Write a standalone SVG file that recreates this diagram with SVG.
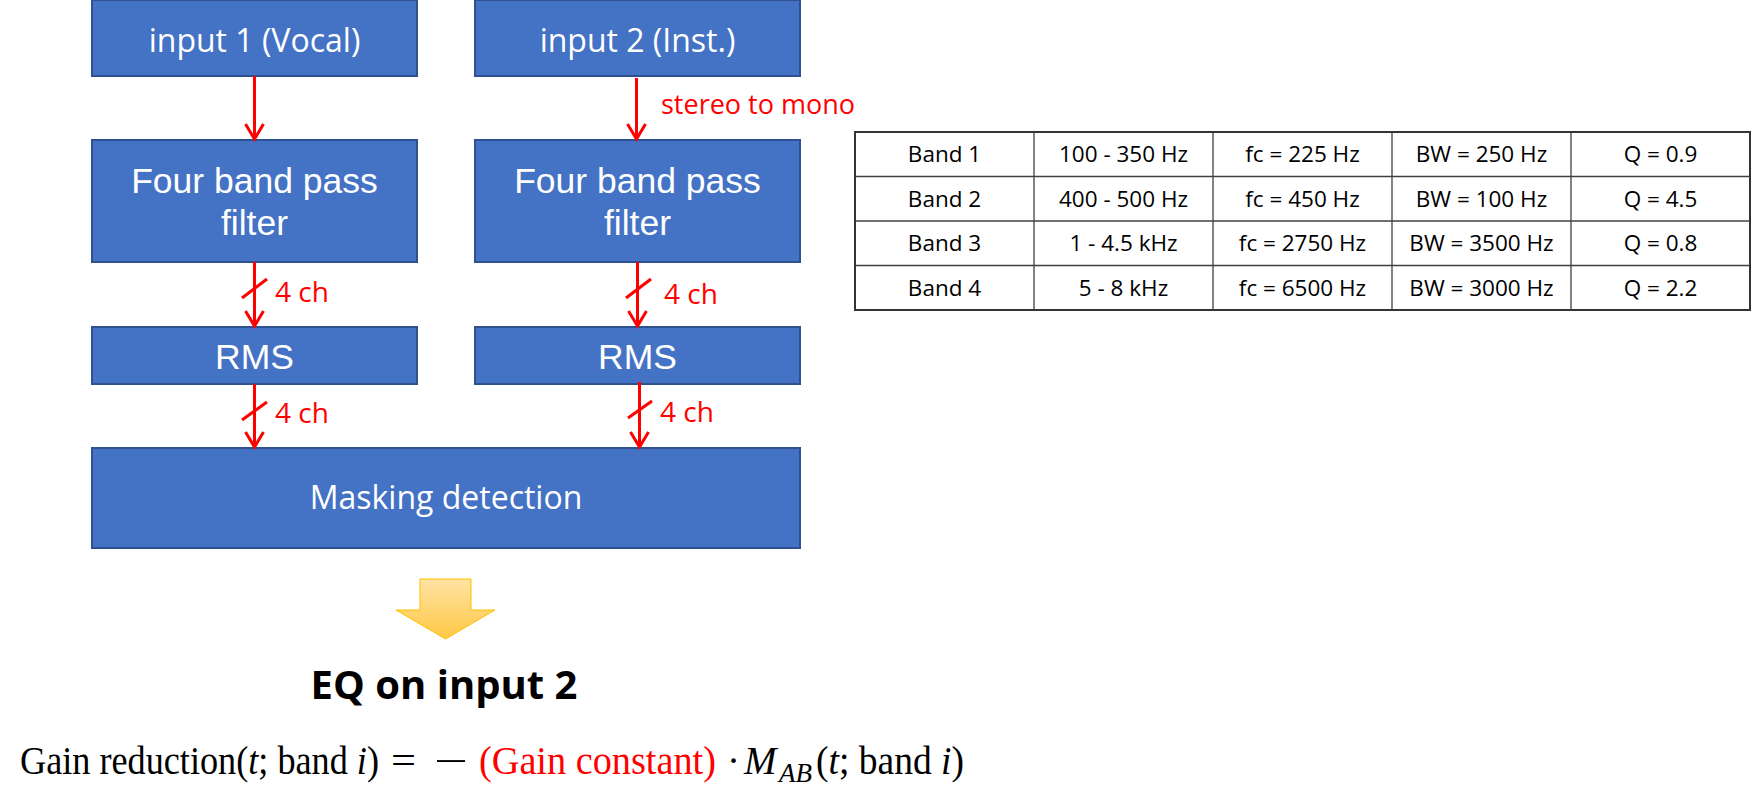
<svg xmlns="http://www.w3.org/2000/svg" width="1753" height="800" viewBox="0 0 1753 800">
<style>
.box{fill:#4472C4;stroke:#2F528F;stroke-width:2}
.cal{font-family:"Open Sans","Liberation Sans",sans-serif;fill:#fff;text-anchor:middle}
.hel{font-family:"Liberation Sans",Arial,sans-serif;fill:#fff;text-anchor:middle;font-size:35.5px}
.red{font-family:"Open Sans","Liberation Sans",sans-serif;fill:#FF0000;font-size:27px}
.ch{font-size:28px}
.conn{stroke:#FF0000;stroke-width:3;fill:none}
.tl{stroke:#404040;stroke-width:1.3}
.tt{font-family:"Open Sans","Liberation Sans",sans-serif;font-size:22.5px;fill:#000;text-anchor:middle}
.math{font-family:"Liberation Serif","Times New Roman",serif;font-size:39px;fill:#000}
.it{font-style:italic}
</style>
<defs>
<marker id="ah" markerUnits="userSpaceOnUse" markerWidth="30" markerHeight="30" refX="0" refY="0" orient="auto" overflow="visible">
<path d="M-15,-9 L0,0 L-15,9" fill="none" stroke="#FF0000" stroke-width="3" stroke-linejoin="miter"/>
</marker>
<linearGradient id="yg" x1="0" y1="0" x2="0" y2="1">
<stop offset="0" stop-color="#FFE3A3"/>
<stop offset="1" stop-color="#FFC845"/>
</linearGradient>
</defs>
<rect width="1753" height="800" fill="#fff"/>

<g id="input1"><rect class="box" x="92" y="0" width="325" height="76"/><text class="cal" x="254.5" y="52" font-size="32">input 1 (Vocal)</text></g>
<g id="input2"><rect class="box" x="475" y="0" width="325" height="76"/><text class="cal" x="637.5" y="52" font-size="32">input 2 (Inst.)</text></g>
<g id="filter1"><rect class="box" x="92" y="140" width="325" height="122"/><text class="hel" x="254.5" y="193">Four band pass</text><text class="hel" x="254.5" y="235">filter</text></g>
<g id="filter2"><rect class="box" x="475" y="140" width="325" height="122"/><text class="hel" x="637.5" y="193">Four band pass</text><text class="hel" x="637.5" y="235">filter</text></g>
<g id="rms1"><rect class="box" x="92" y="327" width="325" height="57"/><text class="hel" x="254.5" y="369">RMS</text></g>
<g id="rms2"><rect class="box" x="475" y="327" width="325" height="57"/><text class="hel" x="637.5" y="369">RMS</text></g>
<g id="masking"><rect class="box" x="92" y="448" width="708" height="100"/><text class="cal" x="446" y="509" font-size="32">Masking detection</text></g>

<g id="connectors">
<line class="conn" x1="254.5" y1="76" x2="254.5" y2="139" marker-end="url(#ah)"/>
<line class="conn" x1="636.5" y1="78" x2="636.5" y2="139" marker-end="url(#ah)"/>
<line class="conn" x1="254.5" y1="262" x2="254.5" y2="326" marker-end="url(#ah)"/>
<line class="conn" x1="242" y1="298" x2="267" y2="279"/>
<line class="conn" x1="637.5" y1="262" x2="637.5" y2="326" marker-end="url(#ah)"/>
<line class="conn" x1="626" y1="298" x2="651" y2="279"/>
<line class="conn" x1="254.5" y1="384" x2="254.5" y2="447" marker-end="url(#ah)"/>
<line class="conn" x1="242" y1="420" x2="267" y2="402"/>
<line class="conn" x1="639.5" y1="382" x2="639.5" y2="447" marker-end="url(#ah)"/>
<line class="conn" x1="628" y1="418" x2="652" y2="401"/>
<text class="red" x="661" y="114">stereo to mono</text>
<text class="red ch" x="275" y="302">4 ch</text>
<text class="red ch" x="664" y="304">4 ch</text>
<text class="red ch" x="275" y="423">4 ch</text>
<text class="red ch" x="660" y="422">4 ch</text>
</g>

<g id="table">
<rect x="855" y="132" width="895" height="178" fill="#fff" stroke="#333" stroke-width="2"/>
<line class="tl" x1="855" y1="176.5" x2="1750" y2="176.5"/>
<line class="tl" x1="855" y1="221" x2="1750" y2="221"/>
<line class="tl" x1="855" y1="265.5" x2="1750" y2="265.5"/>
<line class="tl" x1="1034" y1="132" x2="1034" y2="310"/>
<line class="tl" x1="1213" y1="132" x2="1213" y2="310"/>
<line class="tl" x1="1392" y1="132" x2="1392" y2="310"/>
<line class="tl" x1="1571" y1="132" x2="1571" y2="310"/>
<text class="tt" x="944.5" y="162">Band 1</text><text class="tt" x="1123.5" y="162">100 - 350 Hz</text><text class="tt" x="1302.5" y="162">fc = 225 Hz</text><text class="tt" x="1481.5" y="162">BW = 250 Hz</text><text class="tt" x="1660.5" y="162">Q = 0.9</text>
<text class="tt" x="944.5" y="206.5">Band 2</text><text class="tt" x="1123.5" y="206.5">400 - 500 Hz</text><text class="tt" x="1302.5" y="206.5">fc = 450 Hz</text><text class="tt" x="1481.5" y="206.5">BW = 100 Hz</text><text class="tt" x="1660.5" y="206.5">Q = 4.5</text>
<text class="tt" x="944.5" y="251">Band 3</text><text class="tt" x="1123.5" y="251">1 - 4.5 kHz</text><text class="tt" x="1302.5" y="251">fc = 2750 Hz</text><text class="tt" x="1481.5" y="251">BW = 3500 Hz</text><text class="tt" x="1660.5" y="251">Q = 0.8</text>
<text class="tt" x="944.5" y="295.5">Band 4</text><text class="tt" x="1123.5" y="295.5">5 - 8 kHz</text><text class="tt" x="1302.5" y="295.5">fc = 6500 Hz</text><text class="tt" x="1481.5" y="295.5">BW = 3000 Hz</text><text class="tt" x="1660.5" y="295.5">Q = 2.2</text>
</g>

<g id="down-arrow">
<path d="M420,579 H471 V610 H495 L445.5,639 L396,610 H420 Z" fill="url(#yg)" stroke="#FFC000" stroke-width="1"/>
</g>

<g id="eq-label">
<text x="444" y="699" font-family="'Open Sans','Liberation Sans',sans-serif" font-weight="bold" font-size="40" text-anchor="middle" fill="#000">EQ on input 2</text>
</g>

<g id="formula">
<text class="math" x="20" y="774" textLength="359" lengthAdjust="spacingAndGlyphs">Gain reduction(<tspan class="it">t</tspan>; band <tspan class="it">i</tspan>)</text>
<text class="math" x="391" y="774" textLength="25" lengthAdjust="spacingAndGlyphs">=</text>
<text class="math" x="434" y="774" textLength="34" lengthAdjust="spacingAndGlyphs">−</text>
<text class="math" x="479" y="774" style="fill:#FF0000" textLength="237" lengthAdjust="spacingAndGlyphs">(Gain constant)</text>
<text class="math" x="727" y="774">·</text>
<text class="math it" x="744" y="774">M</text>
<text class="math it" x="779" y="782" style="font-size:27px">AB</text>
<text class="math" x="816" y="774" textLength="148" lengthAdjust="spacingAndGlyphs">(<tspan class="it">t</tspan>; band <tspan class="it">i</tspan>)</text>
</g>
</svg>
